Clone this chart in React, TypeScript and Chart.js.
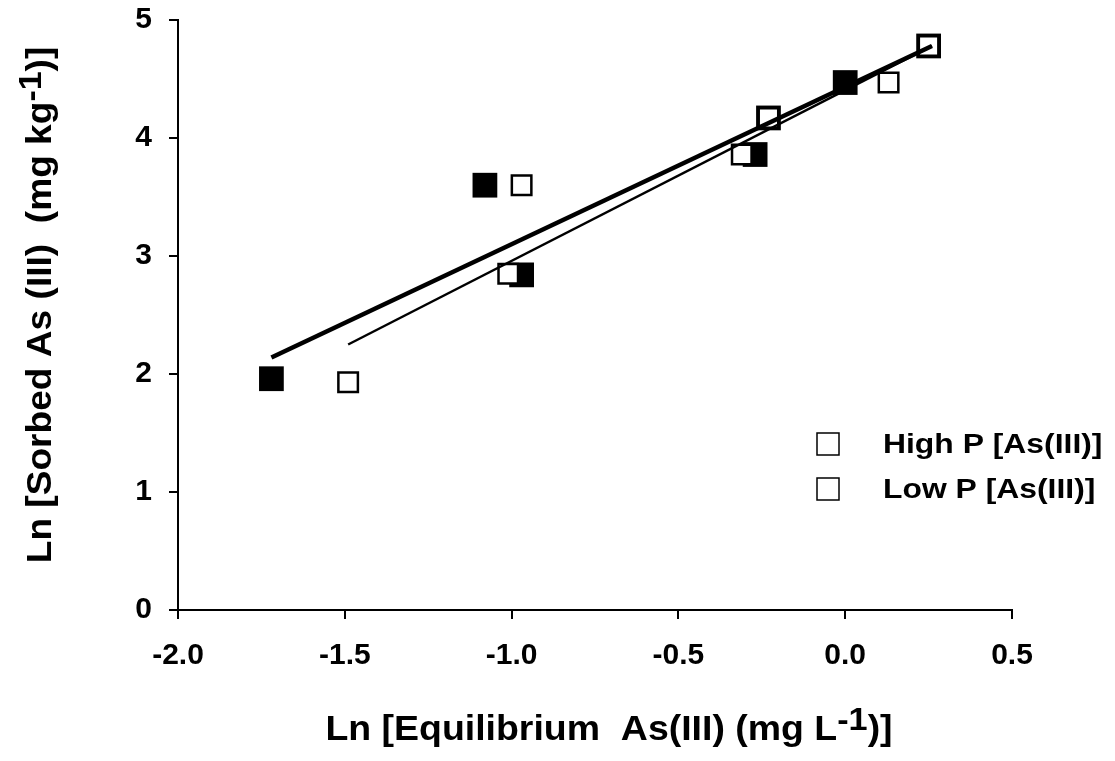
import React, { useEffect, useRef } from "react";
import { Chart, registerables } from "chart.js";

Chart.register(...registerables);

// ---- data ----
const seriesNames = ["High P [As(III)]", "Low P [As(III)]"];
const filledX = [-1.72, -1.08, -0.97, -0.27, -0.23, 0.0, 0.25];
const filledY = [1.96, 3.6, 2.84, 3.86, 4.17, 4.47, 4.78];
const hollowX = [-1.49, -0.97, -1.01, -0.31, -0.23, 0.13, 0.25];
const hollowY = [1.93, 3.6, 2.85, 3.86, 4.17, 4.47, 4.78];
const highFitX = [-1.72, 0.26];
const highFitY = [2.14, 4.78];
const lowFitX = [-1.49, 0.26];
const lowFitY = [2.25, 4.78];
const xTicks = [-2.0, -1.5, -1.0, -0.5, 0.0, 0.5];
const yTicks = [0, 1, 2, 3, 4, 5];
const xTitleParts = ["Ln [Equilibrium  As(III) (mg L", "-1", ")]"];
const yTitleParts = ["Ln [Sorbed As (III)  (mg kg", "-1", ")]"];

const FONT = "'Liberation Sans', Arial, Helvetica, sans-serif";

const zip = (xs: number[], ys: number[]) => xs.map((x, i) => ({ x, y: ys[i] }));

function drawRich(
  ctx: CanvasRenderingContext2D,
  parts: string[],
  size: number,
  supSize: number,
  supRise: number,
  sx: number
) {
  const fonts = [size, supSize, size];
  const widths = parts.map((t, i) => {
    ctx.font = `bold ${fonts[i]}px ${FONT}`;
    return ctx.measureText(t).width;
  });
  const total = widths.reduce((a, b) => a + b, 0);
  ctx.save();
  ctx.scale(sx, 1);
  let x = -total / 2;
  parts.forEach((t, i) => {
    ctx.font = `bold ${fonts[i]}px ${FONT}`;
    ctx.fillText(t, x, i === 1 ? -supRise : 0);
    x += widths[i];
  });
  ctx.restore();
}

const decorPlugin = {
  id: "decor",
  afterDraw(chart: any) {
    const ctx: CanvasRenderingContext2D = chart.ctx;
    ctx.save();
    ctx.fillStyle = "#000";
    ctx.textBaseline = "alphabetic";
    ctx.textAlign = "left";

    // x title
    ctx.save();
    ctx.translate(609, 740);
    drawRich(ctx, xTitleParts, 35, 32, 10, 1.07);
    ctx.restore();

    // y title
    ctx.save();
    ctx.translate(51, 305);
    ctx.rotate(-Math.PI / 2);
    drawRich(ctx, yTitleParts, 35, 32, 10, 1.06);
    ctx.restore();

    // legend
    const rows = [444, 489];
    seriesNames.forEach((name, i) => {
      const cy = rows[i];
      ctx.lineWidth = 1.5;
      ctx.strokeStyle = "#000";
      ctx.fillStyle = "#fff";
      ctx.fillRect(817, cy - 11, 22, 22);
      ctx.strokeRect(817, cy - 11, 22, 22);
      ctx.fillStyle = "#000";
      ctx.font = `bold 27px ${FONT}`;
      ctx.save();
      ctx.translate(883, cy + 9);
      ctx.scale(1.18, 1);
      ctx.fillText(name, 0, 0);
      ctx.restore();
    });
    ctx.restore();
  },
};

export default function App() {
  const ref = useRef<HTMLCanvasElement | null>(null);

  useEffect(() => {
    if (!ref.current) return;
    const tickFont = { family: FONT, size: 30, weight: "bold" as const };
    const chart = new Chart(ref.current, {
      type: "scatter",
      data: {
        datasets: [
          {
            label: seriesNames[0],
            data: zip(filledX, filledY),
            pointStyle: "rect",
            pointRadius: 17.5,
            backgroundColor: "#000",
            borderColor: "#000",
            borderWidth: 0,
            order: 3,
          },
          {
            label: seriesNames[1],
            data: zip(hollowX, hollowY),
            pointStyle: "rect",
            pointRadius: 13.8,
            backgroundColor: "#fff",
            borderColor: "#000",
            borderWidth: 2.5,
            order: 2,
          },
          {
            label: "fit high",
            data: zip(highFitX, highFitY),
            showLine: true,
            borderColor: "#000",
            borderWidth: 4.5,
            pointRadius: 0,
            order: 1,
          },
          {
            label: "fit low",
            data: zip(lowFitX, lowFitY),
            showLine: true,
            borderColor: "#000",
            borderWidth: 2.5,
            pointRadius: 0,
            order: 0,
          },
        ],
      },
      options: {
        responsive: false,
        animation: false,
        devicePixelRatio: 1,
        layout: { padding: { top: 20, right: 103, left: 0, bottom: 0 } },
        plugins: { legend: { display: false }, tooltip: { enabled: false } },
        elements: { line: { tension: 0 } },
        scales: {
          x: {
            type: "linear",
            min: -2,
            max: 0.5,
            afterBuildTicks: (s: any) => {
              s.ticks = xTicks.map((v) => ({ value: v }));
            },
            afterFit: (s: any) => {
              s.height = 151;
              s.paddingLeft = 0;
              s.paddingRight = 0;
            },
            ticks: {
              font: tickFont,
              color: "#000",
              padding: 19,
              maxRotation: 0,
              autoSkip: false,
              callback: (v: any) => Number(v).toFixed(1),
            },
            grid: {
              display: true,
              drawOnChartArea: false,
              drawTicks: true,
              tickLength: 9,
              color: "#000",
              lineWidth: 2,
            },
            border: { display: true, color: "#000", width: 2 },
          },
          y: {
            type: "linear",
            min: 0,
            max: 5,
            afterBuildTicks: (s: any) => {
              s.ticks = yTicks.map((v) => ({ value: v }));
            },
            afterFit: (s: any) => {
              s.width = 178;
              s.paddingTop = 0;
              s.paddingBottom = 0;
            },
            ticks: {
              font: tickFont,
              color: "#000",
              padding: 17,
              autoSkip: false,
              callback: (v: any) => String(v),
            },
            grid: {
              display: true,
              drawOnChartArea: false,
              drawTicks: true,
              tickLength: 9,
              color: "#000",
              lineWidth: 2,
            },
            border: { display: true, color: "#000", width: 2 },
          },
        },
      },
      plugins: [decorPlugin],
    });
    return () => chart.destroy();
  }, []);

  return (
    <div style={{ position: "absolute", left: 0, top: 0, width: 1115, height: 761, background: "#fff" }}>
      <canvas ref={ref} width={1115} height={761} style={{ display: "block" }} />
    </div>
  );
}
